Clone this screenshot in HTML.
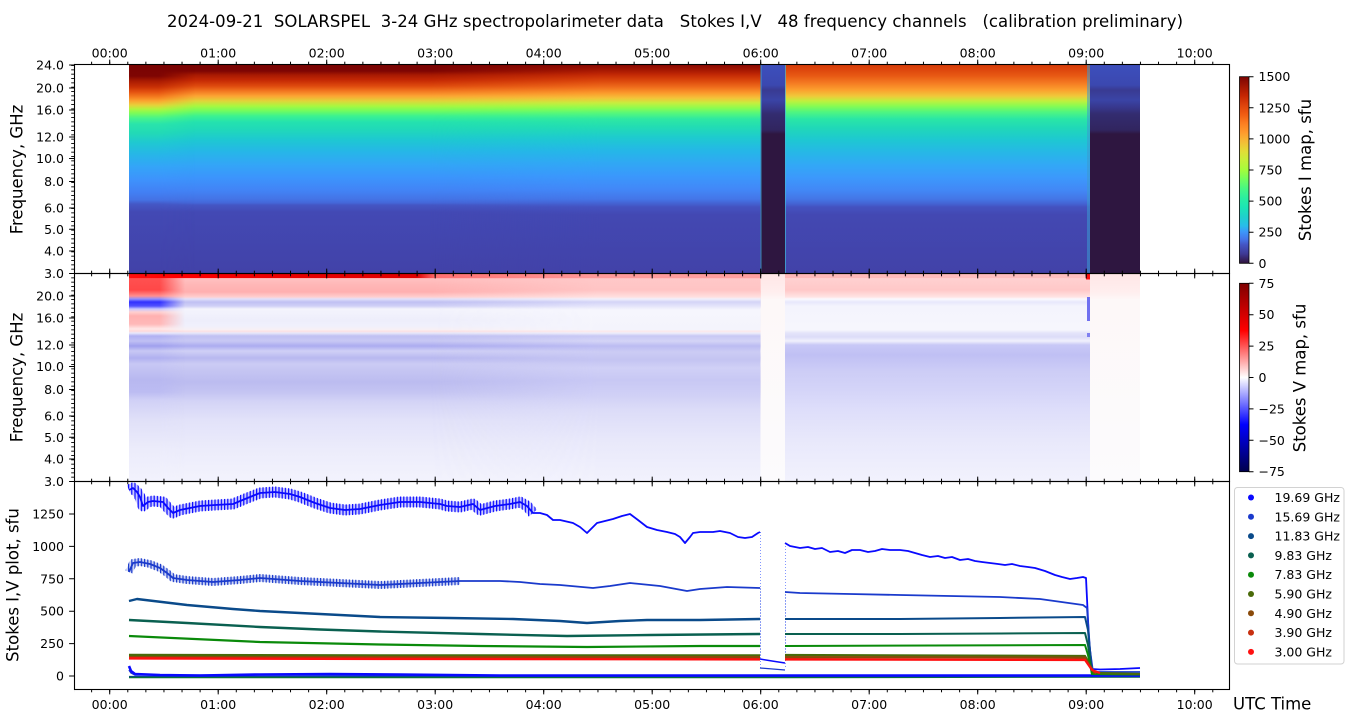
<!DOCTYPE html>
<html><head><meta charset="utf-8"><style>
html,body{margin:0;padding:0;background:#fff;overflow:hidden}
svg{display:block}
text{font-family:"DejaVu Sans","Liberation Sans",sans-serif;fill:#000}
</style></head><body>
<svg width="1350" height="725" viewBox="0 0 1350 725" xmlns="http://www.w3.org/2000/svg">
<defs>
<linearGradient id="gIA" gradientUnits="userSpaceOnUse" x1="0" y1="0" x2="0" y2="1000">
<stop offset=".065" stop-color="#7a0403"/><stop offset=".076" stop-color="#7e0503"/><stop offset=".081" stop-color="#a81a02"/><stop offset=".087" stop-color="#c83005"/><stop offset=".092" stop-color="#e45210"/><stop offset=".097" stop-color="#f57d20"/><stop offset=".101" stop-color="#fba530"/><stop offset=".105" stop-color="#e8cf3a"/><stop offset=".109" stop-color="#b2f43e"/><stop offset=".113" stop-color="#7efc56"/><stop offset=".118" stop-color="#48f48a"/><stop offset=".124" stop-color="#2ae4aa"/><stop offset=".133" stop-color="#22dab6"/><stop offset=".143" stop-color="#1fc8d2"/><stop offset=".155" stop-color="#27b5e8"/><stop offset=".167" stop-color="#34a4f8"/><stop offset=".180" stop-color="#3e92fc"/><stop offset=".192" stop-color="#4280f4"/><stop offset=".200" stop-color="#4472e4"/><stop offset=".204" stop-color="#4458c6"/><stop offset=".212" stop-color="#4349b4"/><stop offset=".274" stop-color="#4242a8"/>
</linearGradient>
<linearGradient id="gIB" gradientUnits="userSpaceOnUse" x1="0" y1="0" x2="0" y2="1000">
<stop offset=".065" stop-color="#7a0403"/><stop offset=".071" stop-color="#7e0503"/><stop offset=".075" stop-color="#a81a02"/><stop offset=".080" stop-color="#c42804"/><stop offset=".086" stop-color="#de4a0e"/><stop offset=".091" stop-color="#f27620"/><stop offset=".096" stop-color="#fca433"/><stop offset=".101" stop-color="#e0d43a"/><stop offset=".106" stop-color="#a8f840"/><stop offset=".111" stop-color="#70fc60"/><stop offset=".116" stop-color="#3cf290"/><stop offset=".122" stop-color="#24e2ae"/><stop offset=".130" stop-color="#20d8ba"/><stop offset=".140" stop-color="#1ec8d2"/><stop offset=".152" stop-color="#26b6e8"/><stop offset=".165" stop-color="#33a5f7"/><stop offset=".178" stop-color="#3c94fc"/><stop offset=".190" stop-color="#4284f6"/><stop offset=".199" stop-color="#4474e6"/><stop offset=".203" stop-color="#4466d8"/><stop offset=".205" stop-color="#4456c4"/><stop offset=".212" stop-color="#4349b4"/><stop offset=".274" stop-color="#4242a8"/>
</linearGradient>
<linearGradient id="gIC" gradientUnits="userSpaceOnUse" x1="0" y1="0" x2="0" y2="1000">
<stop offset=".065" stop-color="#8a0a03"/><stop offset=".070" stop-color="#a51702"/><stop offset=".075" stop-color="#c42a05"/><stop offset=".081" stop-color="#dc480d"/><stop offset=".087" stop-color="#ef6c1c"/><stop offset=".093" stop-color="#fb9a2c"/><stop offset=".098" stop-color="#f4c23a"/><stop offset=".103" stop-color="#c6ee3e"/><stop offset=".108" stop-color="#8cfc50"/><stop offset=".113" stop-color="#56f87a"/><stop offset=".119" stop-color="#2ee8a2"/><stop offset=".127" stop-color="#22dcb4"/><stop offset=".138" stop-color="#1ecad0"/><stop offset=".150" stop-color="#24b8e6"/><stop offset=".163" stop-color="#30a8f4"/><stop offset=".176" stop-color="#3a98fc"/><stop offset=".189" stop-color="#4288f8"/><stop offset=".199" stop-color="#4476e8"/><stop offset=".204" stop-color="#4460d0"/><stop offset=".207" stop-color="#4452c0"/><stop offset=".215" stop-color="#4348b2"/><stop offset=".274" stop-color="#4242a8"/>
</linearGradient>
<linearGradient id="gID" gradientUnits="userSpaceOnUse" x1="0" y1="0" x2="0" y2="1000">
<stop offset=".065" stop-color="#d63c08"/><stop offset=".070" stop-color="#de470d"/><stop offset=".076" stop-color="#e85a14"/><stop offset=".083" stop-color="#f47a22"/><stop offset=".090" stop-color="#fba02e"/><stop offset=".096" stop-color="#f0c83a"/><stop offset=".101" stop-color="#c0f03e"/><stop offset=".106" stop-color="#88fc52"/><stop offset=".112" stop-color="#50f680"/><stop offset=".119" stop-color="#2ae6a6"/><stop offset=".128" stop-color="#20d8b8"/><stop offset=".140" stop-color="#1ec8d2"/><stop offset=".152" stop-color="#26b8e6"/><stop offset=".165" stop-color="#32a8f6"/><stop offset=".178" stop-color="#3c98fc"/><stop offset=".190" stop-color="#4288f6"/><stop offset=".199" stop-color="#4476e6"/><stop offset=".204" stop-color="#4462d2"/><stop offset=".207" stop-color="#4452c0"/><stop offset=".215" stop-color="#4348b2"/><stop offset=".274" stop-color="#4242a8"/>
</linearGradient>
<linearGradient id="gGap" gradientUnits="userSpaceOnUse" x1="0" y1="0" x2="0" y2="1000">
<stop offset=".065" stop-color="#3d4fbc"/><stop offset=".085" stop-color="#3b48b0"/><stop offset=".090" stop-color="#393a92"/><stop offset=".100" stop-color="#3a44a6"/><stop offset=".108" stop-color="#37368a"/><stop offset=".114" stop-color="#332c70"/><stop offset=".130" stop-color="#31255f"/><stop offset=".134" stop-color="#2e1640"/><stop offset=".274" stop-color="#2e1640"/>
</linearGradient>

<linearGradient id="gVA" gradientUnits="userSpaceOnUse" x1="0" y1="0" x2="0" y2="1000">
<stop offset=".2735" stop-color="#ff0000"/><stop offset=".279" stop-color="#ff5050"/><stop offset=".290" stop-color="#ff4848"/><stop offset=".296" stop-color="#ff9090"/><stop offset=".299" stop-color="#9090ff"/><stop offset=".302" stop-color="#3030ff"/><stop offset=".306" stop-color="#5050ff"/><stop offset=".309" stop-color="#c8c8ff"/><stop offset=".312" stop-color="#ffd0d0"/><stop offset=".316" stop-color="#ffb0b0"/><stop offset=".324" stop-color="#ffb8b8"/><stop offset=".329" stop-color="#ffe8e8"/><stop offset=".331" stop-color="#ffd8d8"/><stop offset=".333" stop-color="#e8e8fc"/><stop offset=".336" stop-color="#b0b0f2"/><stop offset=".341" stop-color="#c0c0f4"/><stop offset=".346" stop-color="#a0a0ee"/><stop offset=".351" stop-color="#c8c8f4"/><stop offset=".358" stop-color="#b0b0f0"/><stop offset=".364" stop-color="#c8c8f4"/><stop offset=".372" stop-color="#c0c0f2"/><stop offset=".380" stop-color="#b8b8f0"/><stop offset=".392" stop-color="#bcbcf2"/><stop offset=".400" stop-color="#d0d0f6"/><stop offset=".420" stop-color="#e0e0f8"/><stop offset=".450" stop-color="#ececfb"/><stop offset=".4815" stop-color="#f2f2fd"/>
</linearGradient>
<linearGradient id="gVB" gradientUnits="userSpaceOnUse" x1="0" y1="0" x2="0" y2="1000">
<stop offset=".2735" stop-color="#f00000"/><stop offset=".279" stop-color="#ffc0c0"/><stop offset=".284" stop-color="#ffb8b8"/><stop offset=".292" stop-color="#ffb0b0"/><stop offset=".297" stop-color="#ffd0d0"/><stop offset=".299" stop-color="#e0e0fa"/><stop offset=".302" stop-color="#c0c0f2"/><stop offset=".306" stop-color="#d0d0f6"/><stop offset=".309" stop-color="#f4f4fc"/><stop offset=".320" stop-color="#eeeefb"/><stop offset=".326" stop-color="#f0f0fc"/><stop offset=".330" stop-color="#f8f0f4"/><stop offset=".331" stop-color="#ffe0e0"/><stop offset=".333" stop-color="#e8e8fa"/><stop offset=".336" stop-color="#c0c0f2"/><stop offset=".341" stop-color="#c8c8f4"/><stop offset=".346" stop-color="#acacf0"/><stop offset=".351" stop-color="#d0d0f6"/><stop offset=".358" stop-color="#b8b8f0"/><stop offset=".364" stop-color="#ccccf4"/><stop offset=".372" stop-color="#c4c4f2"/><stop offset=".382" stop-color="#bcbcf0"/><stop offset=".392" stop-color="#c4c4f2"/><stop offset=".402" stop-color="#d4d4f6"/><stop offset=".420" stop-color="#e2e2f9"/><stop offset=".450" stop-color="#ececfb"/><stop offset=".4815" stop-color="#f3f3fd"/>
</linearGradient>
<linearGradient id="gVC" gradientUnits="userSpaceOnUse" x1="0" y1="0" x2="0" y2="1000">
<stop offset=".2735" stop-color="#ff6060"/><stop offset=".279" stop-color="#ffc8c8"/><stop offset=".290" stop-color="#ffc4c4"/><stop offset=".297" stop-color="#ffe0e0"/><stop offset=".299" stop-color="#f0f0fc"/><stop offset=".302" stop-color="#d4d4f6"/><stop offset=".306" stop-color="#e4e4fa"/><stop offset=".310" stop-color="#f6f6fd"/><stop offset=".330" stop-color="#f4f4fc"/><stop offset=".331" stop-color="#ffe8e8"/><stop offset=".333" stop-color="#eeeefb"/><stop offset=".336" stop-color="#c8c8f4"/><stop offset=".341" stop-color="#d4d4f6"/><stop offset=".346" stop-color="#bcbcf2"/><stop offset=".352" stop-color="#ccccf4"/><stop offset=".360" stop-color="#c4c4f2"/><stop offset=".368" stop-color="#d0d0f6"/><stop offset=".380" stop-color="#c8c8f4"/><stop offset=".395" stop-color="#d0d0f6"/><stop offset=".410" stop-color="#dcdcf8"/><stop offset=".440" stop-color="#e8e8fa"/><stop offset=".4815" stop-color="#f2f2fd"/>
</linearGradient>
<linearGradient id="gVD" gradientUnits="userSpaceOnUse" x1="0" y1="0" x2="0" y2="1000">
<stop offset=".2735" stop-color="#ffc0c0"/><stop offset=".279" stop-color="#ffd0d0"/><stop offset=".290" stop-color="#ffc8c8"/><stop offset=".297" stop-color="#ffe4e4"/><stop offset=".299" stop-color="#fafafe"/><stop offset=".302" stop-color="#e8e8fc"/><stop offset=".306" stop-color="#f4f4fd"/><stop offset=".330" stop-color="#f6f6fd"/><stop offset=".333" stop-color="#e4e4fa"/><stop offset=".337" stop-color="#dcdcf8"/><stop offset=".341" stop-color="#f0f0fc"/><stop offset=".345" stop-color="#c8c8f6"/><stop offset=".355" stop-color="#c0c0f4"/><stop offset=".370" stop-color="#ccccf6"/><stop offset=".390" stop-color="#d4d4f8"/><stop offset=".410" stop-color="#dedefa"/><stop offset=".440" stop-color="#e8e8fb"/><stop offset=".4815" stop-color="#f2f2fd"/>
</linearGradient>
<linearGradient id="gVgap" gradientUnits="userSpaceOnUse" x1="0" y1="0" x2="0" y2="1000">
<stop offset=".2735" stop-color="#ffe6e6"/><stop offset=".292" stop-color="#ffeeee"/><stop offset=".300" stop-color="#fdf8f8"/><stop offset=".4815" stop-color="#fcfbfd"/>
</linearGradient>
<linearGradient id="gVtop" gradientUnits="userSpaceOnUse" x1="129" y1="0" x2="1088" y2="0">
<stop offset="0" stop-color="#ff1010"/><stop offset=".05" stop-color="#ff0000"/><stop offset=".18" stop-color="#e80000"/><stop offset=".30" stop-color="#e00000"/><stop offset=".32" stop-color="#ff7070"/><stop offset=".49" stop-color="#ff9a9a"/><stop offset=".66" stop-color="#ffa0a0"/><stop offset=".68" stop-color="#ffb8b8"/><stop offset="1" stop-color="#ffc0c0"/>
</linearGradient>

<linearGradient id="fA" gradientUnits="userSpaceOnUse" x1="129" y1="0" x2="195" y2="0"><stop offset=".45" stop-color="#fff"/><stop offset="1" stop-color="#000"/></linearGradient>
<linearGradient id="fV" gradientUnits="userSpaceOnUse" x1="129" y1="0" x2="185" y2="0"><stop offset=".55" stop-color="#fff"/><stop offset="1" stop-color="#000"/></linearGradient>
<linearGradient id="fC" gradientUnits="userSpaceOnUse" x1="430" y1="0" x2="600" y2="0"><stop offset="0" stop-color="#000"/><stop offset="1" stop-color="#fff"/></linearGradient>
<mask id="mA" maskUnits="userSpaceOnUse" x="0" y="0" width="1350" height="725"><rect x="129" y="60" width="70" height="430" fill="url(#fA)"/></mask>
<mask id="mV" maskUnits="userSpaceOnUse" x="0" y="0" width="1350" height="725"><rect x="129" y="60" width="60" height="430" fill="url(#fV)"/></mask>
<mask id="mC" maskUnits="userSpaceOnUse" x="0" y="0" width="1350" height="725"><rect x="430" y="60" width="330" height="430" fill="url(#fC)"/></mask>

<linearGradient id="turbo" x1="0" y1="0" x2="0" y2="1">
<stop offset="0" stop-color="#7a0403"/><stop offset=".05" stop-color="#a01502"/><stop offset=".1" stop-color="#c42503"/><stop offset=".15" stop-color="#dd420c"/><stop offset=".2" stop-color="#f05b12"/><stop offset=".25" stop-color="#fb7e21"/><stop offset=".3" stop-color="#fe9b2d"/><stop offset=".35" stop-color="#f4bd36"/><stop offset=".4" stop-color="#e1dd37"/><stop offset=".45" stop-color="#c4f03a"/><stop offset=".5" stop-color="#a4fc3c"/><stop offset=".55" stop-color="#72fe5e"/><stop offset=".6" stop-color="#46f884"/><stop offset=".65" stop-color="#2aefa1"/><stop offset=".7" stop-color="#1be5b5"/><stop offset=".75" stop-color="#1fd0cc"/><stop offset=".8" stop-color="#28bceb"/><stop offset=".83" stop-color="#3c98fa"/><stop offset=".87" stop-color="#4476ea"/><stop offset=".9" stop-color="#4455c5"/><stop offset=".95" stop-color="#3e3994"/><stop offset="1" stop-color="#30123b"/>
</linearGradient>
<linearGradient id="seismic" x1="0" y1="0" x2="0" y2="1">
<stop offset="0" stop-color="#7f0000"/><stop offset=".25" stop-color="#ff0000"/><stop offset=".5" stop-color="#ffffff"/><stop offset=".75" stop-color="#0000ff"/><stop offset="1" stop-color="#00004c"/>
</linearGradient>

<pattern id="mx" patternUnits="userSpaceOnUse" x="109.2" y="0" width="18.0833" height="20"><rect x="0" y="0" width="1" height="20" fill="#000"/></pattern>
<pattern id="my" patternUnits="userSpaceOnUse" x="0" y="273.05" width="20" height="4.3333"><rect x="0" y="0" width="20" height="0.9" fill="#000"/></pattern>
<pattern id="h19" patternUnits="userSpaceOnUse" x="0" y="0" width="3.2" height="20"><rect x="0" y="0" width="1.2" height="20" fill="#0a0aff"/></pattern>
<pattern id="h15" patternUnits="userSpaceOnUse" x="0" y="0" width="3.2" height="20"><rect x="0" y="0" width="1.2" height="20" fill="#1a3acc"/></pattern>
<clipPath id="c3"><rect x="74.5" y="481.5" width="1155" height="208"/></clipPath>
</defs>

<rect width="1350" height="725" fill="#fff"/>

<text x="675" y="27" font-size="16.5" text-anchor="middle" textLength="1016" lengthAdjust="spacing" style="white-space:pre" xml:space="preserve">2024-09-21  SOLARSPEL  3-24 GHz spectropolarimeter data   Stokes I,V   48 frequency channels   (calibration preliminary)</text>

<!-- Panel 1 -->
<rect x="129" y="64.5" width="631.5" height="209" fill="url(#gIB)"/>
<rect x="129" y="64.5" width="70" height="209" fill="url(#gIA)" mask="url(#mA)"/>
<rect x="430" y="64.5" width="330.5" height="209" fill="url(#gIC)" mask="url(#mC)"/>
<rect x="785" y="64.5" width="305" height="209" fill="url(#gID)"/>
<rect x="760.5" y="64.5" width="24.5" height="209" fill="url(#gGap)"/>
<rect x="1090" y="64.5" width="50" height="209" fill="url(#gGap)"/>
<rect x="1087" y="64.5" width="3" height="209" fill="#3a9ad0" opacity=".55"/>
<line x1="761" y1="64.5" x2="761" y2="273.5" stroke="#3fb8d8" stroke-width="1" opacity=".7"/>
<line x1="785.5" y1="64.5" x2="785.5" y2="273.5" stroke="#3fb8d8" stroke-width="1" opacity=".7"/>

<!-- Panel 2 -->
<rect x="129" y="273.5" width="631.5" height="208" fill="url(#gVB)"/>
<rect x="129" y="273.5" width="60" height="208" fill="url(#gVA)" mask="url(#mV)"/>
<rect x="430" y="273.5" width="330.5" height="208" fill="url(#gVC)" mask="url(#mC)"/>
<rect x="785" y="273.5" width="305" height="208" fill="url(#gVD)"/>
<rect x="760.5" y="273.5" width="24.5" height="208" fill="url(#gVgap)"/>
<rect x="1090" y="273.5" width="50" height="208" fill="url(#gVgap)"/>
<rect x="129" y="273.5" width="631.5" height="4.5" fill="url(#gVtop)"/>
<rect x="785" y="273.5" width="303" height="4.5" fill="url(#gVtop)"/>
<rect x="1086" y="273.5" width="4" height="6" fill="#ff1010"/>
<rect x="1087" y="297" width="3" height="24" fill="#7070f0"/>
<rect x="1087" y="333" width="3" height="4" fill="#8080f0"/>

<!-- Panel 3 -->
<g clip-path="url(#c3)" fill="none" stroke-linejoin="round">
<path d="M129,677.5 L760,677.5 L785,677.5 L1140,677" stroke="#0a6050" stroke-width="1.5"/>
<path d="M129,677 L760,677 L785,677 L1140,676.5" stroke="#0a8a0a" stroke-width="1.2"/>
<path d="M129,676.5 L1140,676.5" stroke="#0a4a8a" stroke-width="1.2"/>
<path d="M129,670 L131,673 L135,675 L1140,676" stroke="#1a3acc" stroke-width="1.5"/>
<path d="M129,666 L131,671 L135,674 L160,675 L200,675.5 L260,674.5 L330,674 L400,674.5 L500,675.5 L760,675.5 L785,675.5 L1140,675.5" stroke="#0a0aff" stroke-width="2.6"/>
<path d="M760,659 L772,661 L785,663" stroke="#0a0aff" stroke-width="1.5"/>
<path d="M760,668 L785,670" stroke="#1a3acc" stroke-width="1.3"/>
<path d="M760.5,532 V668 M785.5,543 V668" stroke="#3050ff" stroke-width="1" stroke-dasharray="1 2" opacity=".6"/>
<path d="M760.5,588 V660 M785.5,592 V660" stroke="#3050d0" stroke-width="1" stroke-dasharray="1 2" opacity=".5"/>

<!-- 19.69 GHz -->
<path d="M129,490 L133,488 L137,492 L140,497 L143,506 L148,502 L153,501 L163,502 L168,508 L173,513 L180,510 L190,508 L200,506 L215,505 L233,504 L245,499 L260,493 L275,492 L290,494 L300,497 L315,503 L330,508 L345,510 L360,509 L380,505 L400,502 L420,502 L440,504 L447,506 L460,507 L473,504 L480,510 L495,506 L510,504 L520,502 L527,506 L533,513" stroke="#0a0aff" stroke-width="10" opacity=".22"/>
<path d="M129,490 L133,488 L137,492 L140,497 L143,506 L148,502 L153,501 L163,502 L168,508 L173,513 L180,510 L190,508 L200,506 L215,505 L233,504 L245,499 L260,493 L275,492 L290,494 L300,497 L315,503 L330,508 L345,510 L360,509 L380,505 L400,502 L420,502 L440,504 L447,506 L460,507 L473,504 L480,510 L495,506 L510,504 L520,502 L527,506 L533,513" stroke="url(#h19)" stroke-width="11"/>
<path d="M129,490 L133,488 L137,492 L140,497 L143,506 L148,502 L153,501 L163,502 L168,508 L173,513 L180,510 L190,508 L200,506 L215,505 L233,504 L245,499 L260,493 L275,492 L290,494 L300,497 L315,503 L330,508 L345,510 L360,509 L380,505 L400,502 L420,502 L440,504 L447,506 L460,507 L473,504 L480,510 L495,506 L510,504 L520,502 L527,506 L533,513 L540,513 L547,515 L553,520 L560,520 L573,523 L580,527 L587,533 L592,528 L597,523 L605,521 L613,519 L622,516 L630,514 L638,520 L647,527 L657,530 L667,532 L675,534 L680,537 L685,543 L690,537 L693,533 L700,532 L713,532 L720,531 L730,533 L738,537 L745,538 L752,537 L758,533 L760,532" stroke="#0a0aff" stroke-width="1.8"/>
<path d="M785,543 L790,546 L800,548 L808,547 L815,549 L822,548 L830,552 L838,551 L845,553 L852,550 L860,550 L868,552 L875,551 L882,549 L890,550 L900,550 L908,551 L915,553 L922,555 L930,557 L938,556 L945,558 L952,557 L960,560 L968,559 L975,561 L982,562 L990,563 L998,564 L1005,565 L1012,564 L1020,566 L1028,567 L1035,568 L1045,571 L1055,575 L1062,577 L1070,579 L1077,578 L1083,577 L1086,578 L1089,640 L1092,669 L1100,669.5 L1120,669 L1140,668" stroke="#0a0aff" stroke-width="1.8"/>

<!-- 15.69 GHz -->
<path d="M129,572 L133,563 L140,562 L150,564 L160,568 L167,573 L173,578 L187,580 L213,582 L240,580 L260,578 L300,581 L340,583 L380,585 L420,583 L460,581" stroke="#1a3acc" stroke-width="7" opacity=".22"/>
<path d="M129,572 L133,563 L140,562 L150,564 L160,568 L167,573 L173,578 L187,580 L213,582 L240,580 L260,578 L300,581 L340,583 L380,585 L420,583 L460,581" stroke="url(#h15)" stroke-width="8"/>
<path d="M129,572 L133,563 L140,562 L150,564 L160,568 L167,573 L173,578 L187,580 L213,582 L240,580 L260,578 L300,581 L340,583 L380,585 L420,583 L460,581 L500,581 L520,582 L540,584 L560,585 L593,588 L610,586 L630,583 L660,586 L687,591 L700,589 L727,587 L760,588" stroke="#1a3acc" stroke-width="1.8"/>
<path d="M785,592 L800,593 L850,594 L900,595 L950,596 L1000,597 L1040,599 L1083,605 L1087,608 L1090,650 L1093,672 L1140,672" stroke="#1a3acc" stroke-width="1.8"/>

<!-- 11.83 GHz -->
<path d="M129,601 L137,599 L187,605 L233,609 L260,611 L320,614 L380,617 L450,618 L513,619 L560,621 L587,623 L620,621 L647,620 L700,620 L760,619" stroke="#0a4a8a" stroke-width="2.4"/>
<path d="M785,619 L900,619 L1000,618 L1085,617 L1088,630 L1092,674 L1140,674" stroke="#0a4a8a" stroke-width="2"/>
<!-- 9.83 GHz -->
<path d="M129,620 L187,623 L260,627 L320,629.5 L380,631.5 L480,634 L567,636 L650,635 L760,634" stroke="#0a6050" stroke-width="2.4"/>
<path d="M785,634 L900,634 L1000,633.5 L1085,633 L1088,645 L1092,674 L1140,674.5" stroke="#0a6050" stroke-width="2"/>
<!-- 7.83 GHz -->
<path d="M129,636 L260,642 L380,644.5 L480,646 L587,647 L700,646 L760,646" stroke="#0a8a0a" stroke-width="2.2"/>
<path d="M785,646 L1085,645 L1088,655 L1092,674 L1140,674.5" stroke="#0a8a0a" stroke-width="2"/>
<!-- 5.90 GHz -->
<path d="M129,655 L380,655.5 L760,655.5" stroke="#4a6a0a" stroke-width="2.4"/>
<path d="M785,655 L1085,656 L1090,665 L1094,673 L1140,674" stroke="#4a6a0a" stroke-width="2.2"/>
<!-- 4.90 GHz -->
<path d="M129,657 L760,657" stroke="#8a4a0a" stroke-width="2"/>
<path d="M785,657 L1085,657.5 L1090,667 L1095,673" stroke="#8a4a0a" stroke-width="2"/>
<!-- 3.90 GHz -->
<path d="M129,658 L760,659" stroke="#c83010" stroke-width="2"/>
<path d="M785,659 L1085,659.5 L1091,668 L1096,673" stroke="#c83010" stroke-width="2"/>
<!-- 3.00 GHz -->
<path d="M129,658.5 L400,659 L760,659.5" stroke="#ff1010" stroke-width="2.2"/>
<path d="M785,659.5 L1085,660 L1092,670 L1100,673" stroke="#ff1010" stroke-width="2.2"/>
</g>

<!-- Spines -->
<g fill="none" stroke="#000" stroke-width="1.1">
<rect x="74.5" y="64.5" width="1155" height="209"/>
<rect x="74.5" y="273.5" width="1155" height="208"/>
<rect x="74.5" y="481.5" width="1155" height="208"/>
</g>

<rect x="74" y="61.7" width="1155.5" height="2.8" fill="url(#mx)"/>
<rect x="74" y="270.7" width="1155.5" height="5.6" fill="url(#mx)"/>
<rect x="74" y="478.7" width="1155.5" height="5.6" fill="url(#mx)"/>
<rect x="74" y="689.5" width="1155.5" height="2.8" fill="url(#mx)"/>
<rect x="71.2" y="64.5" width="3.3" height="417" fill="url(#my)"/>

<path fill="none" stroke="#000" stroke-width="1" d="
M109.7,59.6V64.5M109.7,268.6V278.4M109.7,476.6V486.4M109.7,689.5V694.4
M218.2,59.6V64.5M218.2,268.6V278.4M218.2,476.6V486.4M218.2,689.5V694.4
M326.7,59.6V64.5M326.7,268.6V278.4M326.7,476.6V486.4M326.7,689.5V694.4
M435.2,59.6V64.5M435.2,268.6V278.4M435.2,476.6V486.4M435.2,689.5V694.4
M543.7,59.6V64.5M543.7,268.6V278.4M543.7,476.6V486.4M543.7,689.5V694.4
M652.2,59.6V64.5M652.2,268.6V278.4M652.2,476.6V486.4M652.2,689.5V694.4
M760.7,59.6V64.5M760.7,268.6V278.4M760.7,476.6V486.4M760.7,689.5V694.4
M869.2,59.6V64.5M869.2,268.6V278.4M869.2,476.6V486.4M869.2,689.5V694.4
M977.7,59.6V64.5M977.7,268.6V278.4M977.7,476.6V486.4M977.7,689.5V694.4
M1086.2,59.6V64.5M1086.2,268.6V278.4M1086.2,476.6V486.4M1086.2,689.5V694.4
M1194.7,59.6V64.5M1194.7,268.6V278.4M1194.7,476.6V486.4M1194.7,689.5V694.4
M69.1,65H74.5M69.1,88H74.5M69.1,110H74.5M69.1,137H74.5M69.1,158.5H74.5M69.1,181.5H74.5M69.1,208H74.5M69.1,229.3H74.5M69.1,251H74.5M69.1,273.5H74.5
M69.1,296H74.5M69.1,318H74.5M69.1,345H74.5M69.1,366.5H74.5M69.1,389.5H74.5M69.1,416H74.5M69.1,437.3H74.5M69.1,459H74.5M69.1,481.5H74.5
M69.1,514H74.5M69.1,546.4H74.5M69.1,578.8H74.5M69.1,611.2H74.5M69.1,643.6H74.5M69.1,676H74.5
"/>

<g font-size="12.5" text-anchor="middle">
<text x="109.7" y="57.3">00:00</text><text x="218.2" y="57.3">01:00</text><text x="326.7" y="57.3">02:00</text><text x="435.2" y="57.3">03:00</text><text x="543.7" y="57.3">04:00</text><text x="652.2" y="57.3">05:00</text><text x="760.7" y="57.3">06:00</text><text x="869.2" y="57.3">07:00</text><text x="977.7" y="57.3">08:00</text><text x="1086.2" y="57.3">09:00</text><text x="1194.7" y="57.3">10:00</text>
<text x="109.7" y="708.8">00:00</text><text x="218.2" y="708.8">01:00</text><text x="326.7" y="708.8">02:00</text><text x="435.2" y="708.8">03:00</text><text x="543.7" y="708.8">04:00</text><text x="652.2" y="708.8">05:00</text><text x="760.7" y="708.8">06:00</text><text x="869.2" y="708.8">07:00</text><text x="977.7" y="708.8">08:00</text><text x="1086.2" y="708.8">09:00</text><text x="1194.7" y="708.8">10:00</text>
</g>

<g font-size="12.5" text-anchor="end">
<text x="64" y="69.5">24.0</text><text x="64" y="92.5">20.0</text><text x="64" y="114.5">16.0</text><text x="64" y="141.5">12.0</text><text x="64" y="163">10.0</text><text x="64" y="186">8.0</text><text x="64" y="212.5">6.0</text><text x="64" y="233.8">5.0</text><text x="64" y="255.5">4.0</text><text x="64" y="278">3.0</text>
<text x="64" y="300.5">20.0</text><text x="64" y="322.5">16.0</text><text x="64" y="349.5">12.0</text><text x="64" y="371">10.0</text><text x="64" y="394">8.0</text><text x="64" y="420.5">6.0</text><text x="64" y="441.8">5.0</text><text x="64" y="463.5">4.0</text><text x="64" y="486">3.0</text>
<text x="64" y="518.5">1250</text><text x="64" y="550.9">1000</text><text x="64" y="583.3">750</text><text x="64" y="615.7">500</text><text x="64" y="648.1">250</text><text x="64" y="680.5">0</text>
</g>

<g font-size="16.5" text-anchor="middle">
<text transform="translate(22.5,169.5) rotate(-90)">Frequency, GHz</text>
<text transform="translate(22.5,377.5) rotate(-90)">Frequency, GHz</text>
<text transform="translate(18.5,585) rotate(-90)">Stokes I,V plot, sfu</text>
<text transform="translate(1311,170) rotate(-90)">Stokes I map, sfu</text>
<text transform="translate(1305.5,378) rotate(-90)">Stokes V map, sfu</text>
</g>
<text x="1233" y="709.3" font-size="16.5">UTC Time</text>

<rect x="1239.5" y="76.7" width="9.5" height="186.6" fill="url(#turbo)" stroke="#000" stroke-width="0.8"/>
<rect x="1239.5" y="283.3" width="9.5" height="188.4" fill="url(#seismic)" stroke="#000" stroke-width="0.8"/>
<path fill="none" stroke="#000" stroke-width="1" d="M1249,263.3H1253.5M1249,232.2H1253.5M1249,201.1H1253.5M1249,170H1253.5M1249,138.9H1253.5M1249,107.8H1253.5M1249,76.7H1253.5
M1249,283.3H1253.5M1249,314.7H1253.5M1249,346.1H1253.5M1249,377.5H1253.5M1249,408.9H1253.5M1249,440.3H1253.5M1249,471.7H1253.5"/>
<g font-size="12.5">
<text x="1258.5" y="267.8">0</text><text x="1258.5" y="236.7">250</text><text x="1258.5" y="205.6">500</text><text x="1258.5" y="174.5">750</text><text x="1258.5" y="143.4">1000</text><text x="1258.5" y="112.3">1250</text><text x="1258.5" y="81.2">1500</text>
<text x="1258.5" y="287.8">75</text><text x="1258.5" y="319.2">50</text><text x="1258.5" y="350.6">25</text><text x="1258.5" y="382">0</text><text x="1258.5" y="413.4">−25</text><text x="1258.5" y="444.8">−50</text><text x="1258.5" y="476.2">−75</text>
</g>

<rect x="1234.5" y="487.5" width="109.5" height="176.5" rx="3" fill="#fff" stroke="#d2d2d2" stroke-width="1"/>
<g>
<circle cx="1251" cy="497.5" r="3" fill="#0a0aff"/>
<circle cx="1251" cy="516.8" r="3" fill="#1a3acc"/>
<circle cx="1251" cy="536.1" r="3" fill="#0a4a8a"/>
<circle cx="1251" cy="555.4" r="3" fill="#0a6050"/>
<circle cx="1251" cy="574.7" r="3" fill="#0a8a0a"/>
<circle cx="1251" cy="594" r="3" fill="#4a6a0a"/>
<circle cx="1251" cy="613.3" r="3" fill="#8a4a0a"/>
<circle cx="1251" cy="632.6" r="3" fill="#c83010"/>
<circle cx="1251" cy="651.9" r="3" fill="#ff1010"/>
</g>
<g font-size="12.5">
<text x="1274.5" y="502">19.69 GHz</text>
<text x="1274.5" y="521.3">15.69 GHz</text>
<text x="1274.5" y="540.6">11.83 GHz</text>
<text x="1274.5" y="559.9">9.83 GHz</text>
<text x="1274.5" y="579.2">7.83 GHz</text>
<text x="1274.5" y="598.5">5.90 GHz</text>
<text x="1274.5" y="617.8">4.90 GHz</text>
<text x="1274.5" y="637.1">3.90 GHz</text>
<text x="1274.5" y="656.4">3.00 GHz</text>
</g>
</svg>
</body></html>
